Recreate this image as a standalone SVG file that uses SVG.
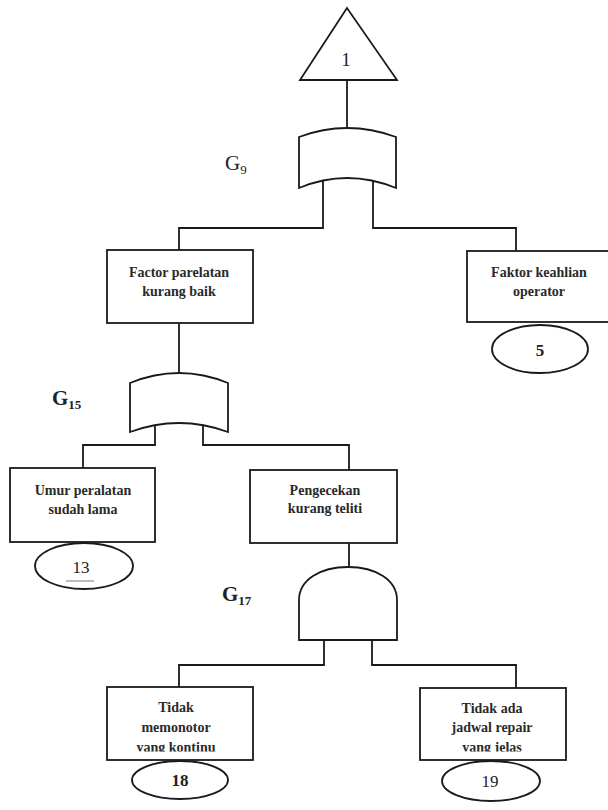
<svg xmlns="http://www.w3.org/2000/svg" width="608" height="810" viewBox="0 0 608 810">
<style>
.ln{fill:none;stroke:#1a1a1a;stroke-width:1.8}
.bx{fill:#fff;stroke:#1a1a1a;stroke-width:1.8}
.t{font-family:"Liberation Serif","Times New Roman",serif;font-size:14px;font-weight:bold;fill:#2a2a2a;text-anchor:middle}
.n{font-family:"Liberation Serif","Times New Roman",serif;font-size:17px;font-weight:bold;fill:#222;text-anchor:middle}
.g{font-family:"Liberation Serif","Times New Roman",serif;font-size:21px;fill:#222}
.s{font-size:13px}
</style>
<defs>
<clipPath id="c1"><rect x="107" y="686" width="146" height="65.5"/></clipPath>
<clipPath id="c2"><rect x="420" y="687" width="146" height="64.5"/></clipPath>
</defs>
<rect width="608" height="810" fill="#fff"/>
<g id="connectors">
<path class="ln" d="M347,80 V128"/>
<path class="ln" d="M323,180 V228 H179 V250"/>
<path class="ln" d="M373,180 V228 H516 V251"/>
<path class="ln" d="M179,323 V375"/>
<path class="ln" d="M155,420 V445 H83 V468"/>
<path class="ln" d="M203,420 V445 H349 V470"/>
<path class="ln" d="M349,543 V567"/>
<path class="ln" d="M324,638 V665 H179 V687"/>
<path class="ln" d="M372,638 V665 H516 V688"/>
</g>
<g id="top">
<polygon class="bx" points="347,8 300,80 397,80"/>
<text class="n" x="346" y="66" style="font-size:19px;font-weight:normal">1</text>
</g>
<g id="G9">
<path class="bx" d="M299,137 Q347,119 396,137 V188 Q347,168 299,188 Z"/>
<text class="g" x="225" y="170">G<tspan class="s" dy="4">9</tspan></text>
</g>
<g id="factor-peralatan">
<rect class="bx" x="107" y="250" width="146" height="73"/>
<text class="t" x="179" y="277">Factor parelatan</text>
<text class="t" x="179" y="296">kurang baik</text>
</g>
<g id="faktor-keahlian">
<rect class="bx" x="467" y="251" width="150" height="71"/>
<text class="t" x="539" y="277">Faktor keahlian</text>
<text class="t" x="539" y="296">operator</text>
<ellipse class="bx" cx="540" cy="349" rx="48" ry="24"/>
<text class="n" x="540" y="356">5</text>
</g>
<g id="G15">
<path class="bx" d="M130,383 Q179,363 228,383 V432 Q179,414 130,432 Z"/>
<text class="g" x="52" y="405" style="font-weight:bold">G<tspan class="s" dy="4">15</tspan></text>
</g>
<g id="umur-peralatan">
<rect class="bx" x="10" y="468" width="145" height="74"/>
<text class="t" x="83" y="495">Umur peralatan</text>
<text class="t" x="83" y="514">sudah lama</text>
<ellipse class="bx" cx="84" cy="566" rx="49" ry="23"/>
<text class="n" x="81" y="573" style="font-weight:normal">13</text>
<path d="M66,581 H94" stroke="#555" stroke-width="0.8"/>
</g>
<g id="pengecekan">
<rect class="bx" x="250" y="470" width="147" height="73"/>
<text class="t" x="325" y="495">Pengecekan</text>
<text class="t" x="325" y="513">kurang teliti</text>
</g>
<g id="G17">
<path class="bx" d="M299,640 V600 C299,580 320,567 348,567 C376,567 397,580 397,600 V640 Z"/>
<text class="g" x="222" y="601" style="font-weight:bold">G<tspan class="s" dy="4">17</tspan></text>
</g>
<g id="tidak-memonotor">
<rect class="bx" x="107" y="687" width="146" height="73"/>
<text class="t" x="176" y="712">Tidak</text>
<text class="t" x="176" y="732">memonotor</text>
<text class="t" x="176" y="752" clip-path="url(#c1)">yang kontinu</text>
<ellipse class="bx" cx="180" cy="780" rx="48" ry="19"/>
<text class="n" x="180" y="786">18</text>
</g>
<g id="tidak-ada-jadwal">
<rect class="bx" x="420" y="688" width="146" height="72"/>
<text class="t" x="492" y="713">Tidak ada</text>
<text class="t" x="492" y="732">jadwal repair</text>
<text class="t" x="492" y="752" clip-path="url(#c2)">yang jelas</text>
<ellipse class="bx" cx="491" cy="781" rx="49" ry="20"/>
<text class="n" x="490" y="787" style="font-weight:normal">19</text>
</g>
</svg>
